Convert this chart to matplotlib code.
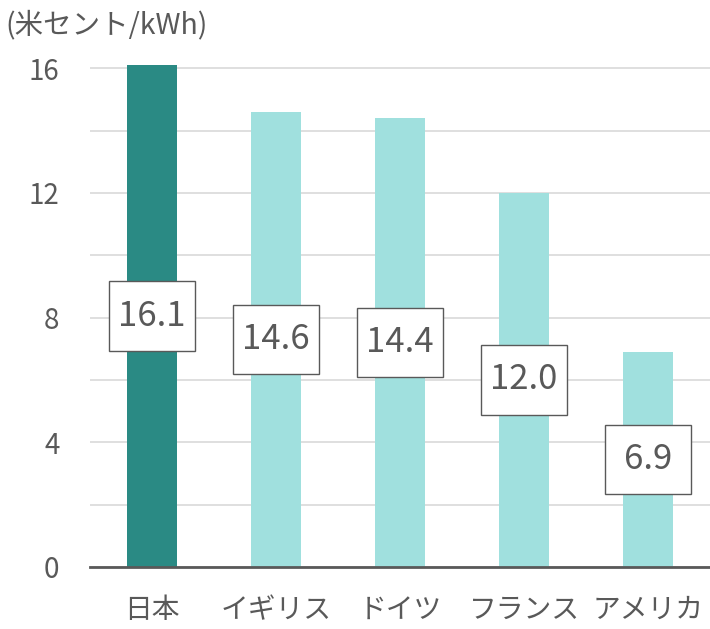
import matplotlib.pyplot as plt
from matplotlib.patches import Rectangle

plt.rcParams['font.family'] = ['Noto Sans CJK JP', 'DejaVu Sans']

countries = ['日本', 'イギリス', 'ドイツ', 'フランス', 'アメリカ']
prices = [16.1, 14.6, 14.4, 12.0, 6.9]
bar_colors = ['#2A8A84', '#A0E0DE', '#A0E0DE', '#A0E0DE', '#A0E0DE']
yticks = [0, 4, 8, 12, 16]

text_color = '#595959'

fig = plt.figure(figsize=(7.1, 6.29), dpi=100)
ax = fig.add_axes([90 / 710, 62 / 629, 620 / 710, 505 / 629])

x = range(len(countries))
ax.bar(x, prices, width=0.4, color=bar_colors, zorder=2)

ax.set_xlim(-0.5, 4.5)
ax.set_ylim(0, 16.2)
ax.set_yticks(yticks)
ax.set_yticks([2, 6, 10, 14], minor=True)
ax.grid(axis='y', which='both', color='#D9D9D9', linewidth=1.2, zorder=0)
ax.tick_params(axis='y', which='both', length=0, pad=22, labelsize=20, labelcolor=text_color)
ax.tick_params(axis='x', length=0, pad=20, labelsize=20, labelcolor=text_color)
ax.set_xticks(list(x))
ax.set_xticklabels(countries)

for s in ['top', 'right', 'left']:
    ax.spines[s].set_visible(False)
ax.spines['bottom'].set_color('#595959')
ax.spines['bottom'].set_linewidth(2)
ax.spines['bottom'].set_zorder(3)

# value labels in white boxes, centred on each bar
box_w, box_h = 0.69, 2.24
for i, v in enumerate(prices):
    ax.add_patch(Rectangle((i - box_w / 2, v / 2 - box_h / 2), box_w, box_h,
                           facecolor='white', edgecolor='#595959',
                           linewidth=1, zorder=4))
    ax.text(i, v / 2, f'{v:.1f}', ha='center', va='center', fontsize=25,
            color=text_color, zorder=5)

fig.text(5 / 710, 1 - 25 / 629, '(米セント/kWh)', ha='left', va='center',
         fontsize=20.5, color=text_color)

fig.savefig('out.png', dpi=100)
